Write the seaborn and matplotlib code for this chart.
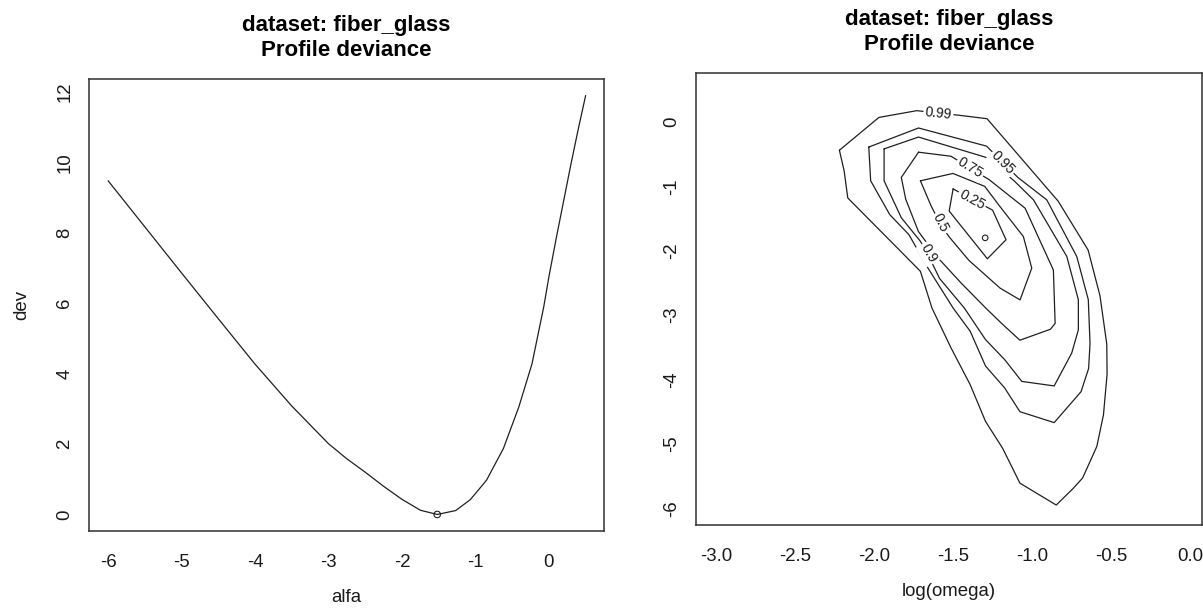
import numpy as np
import pandas as pd
import matplotlib
matplotlib.use("Agg")
import matplotlib.pyplot as plt
import seaborn as sns

# ---------------- data ----------------
alfa = [-6.0, -5.5, -5.0, -4.5, -4.0, -3.5, -3.0, -2.75, -2.5, -2.25,
        -2.0, -1.75, -1.52, -1.27, -1.07, -0.85, -0.62, -0.41, -0.23, -0.07,
        0.0, 0.1, 0.2, 0.3, 0.4, 0.5]
dev = [9.48, 8.17, 6.86, 5.56, 4.27, 3.08, 2.01, 1.58, 1.20, 0.80,
       0.43, 0.12, 0.0, 0.11, 0.42, 0.97, 1.87, 3.05, 4.28, 5.90,
       6.75, 7.85, 8.90, 9.95, 10.95, 11.90]
alfa_hat = [-1.52]
dev_hat = [0.0]

# contour paths (x = log(omega), y = alfa), one closed path per level
c099_x = [-2.22, -1.97, -1.73, -1.45, -1.285, -0.835, -0.645, -0.57, -0.527, -0.525,
          -0.548, -0.59, -0.68, -0.739, -0.847, -1.077, -1.186, -1.295, -1.392, -1.513,
          -1.634, -1.707, -1.852, -2.022, -2.167, -2.19, -2.22]
c099_y = [-0.44, 0.07, 0.175, 0.10, 0.05, -1.23, -1.99, -2.70, -3.45, -3.92,
          -4.55, -5.04, -5.53, -5.69, -5.95, -5.61, -5.07, -4.65, -4.08, -3.51,
          -2.89, -2.32, -1.96, -1.54, -1.18, -0.76, -0.44]
c095_x = [-2.034, -1.719, -1.288, -1.09, -0.907, -0.717, -0.644, -0.633, -0.642, -0.69,
          -0.86, -1.077, -1.174, -1.295, -1.392, -1.50, -1.659, -1.78, -1.901, -2.022, -2.034]
c095_y = [-0.39, -0.094, -0.376, -0.862, -1.21, -2.09, -2.76, -3.44, -3.83, -4.19,
          -4.67, -4.50, -4.13, -3.79, -3.25, -2.89, -2.27, -1.75, -1.44, -0.914, -0.39]
c090_x = [-1.937, -1.719, -1.295, -1.114, -0.991, -0.78, -0.707, -0.707, -0.749, -0.86,
          -1.065, -1.174, -1.295, -1.429, -1.586, -1.659, -1.707, -1.828, -1.937, -1.937]
c090_y = [-0.418, -0.235, -0.548, -0.914, -1.21, -2.09, -2.76, -3.23, -3.59, -4.10,
          -4.03, -3.69, -3.38, -2.89, -2.43, -2.06, -1.854, -1.488, -0.914, -0.418]
c075_x = [-1.719, -1.513, -1.271, -1.044, -0.865, -0.854, -0.884, -1.077, -1.186, -1.295,
          -1.45, -1.60, -1.72, -1.80, -1.828, -1.719]
c075_y = [-0.47, -0.533, -0.898, -1.34, -2.30, -3.13, -3.22, -3.39, -3.145, -2.886,
          -2.50, -2.10, -1.70, -1.20, -0.862, -0.47]
c050_x = [-1.707, -1.501, -1.30, -1.203, -1.055, -1.002, -1.076, -1.203, -1.40, -1.52,
          -1.574, -1.64, -1.707]
c050_y = [-0.914, -0.80, -1.00, -1.315, -1.78, -2.27, -2.764, -2.58, -2.15, -1.80,
          -1.62, -1.30, -0.914]
c025_x = [-1.50, -1.25, -1.165, -1.283, -1.525, -1.50]
c025_y = [-1.04, -1.37, -1.83, -2.125, -1.384, -1.04]

levels = ["0.99", "0.95", "0.9", "0.75", "0.5", "0.25"]
label_x = [-1.593, -1.188, -1.656, -1.392, -1.578, -1.380]
label_y = [0.135, -0.640, -2.040, -0.716, -1.574, -1.205]

omega_hat = [-1.297]
alfa_hat2 = [-1.80]

# tick labels
left_xticks = [-6, -5, -4, -3, -2, -1, 0]
left_yticks = [0, 2, 4, 6, 8, 10, 12]
right_xticks = [-3.0, -2.5, -2.0, -1.5, -1.0, -0.5, 0.0]
right_yticks = [-6, -5, -4, -3, -2, -1, 0]

# ---------------- style ----------------
sns.set_style("white")
plt.rcParams["font.family"] = ["Liberation Sans", "DejaVu Sans"]
plt.rcParams["axes.unicode_minus"] = False

W, H = 1203, 614
fig = plt.figure(figsize=(W / 100, H / 100), dpi=100)
fig.patch.set_facecolor("white")


def box(x0, x1, ytop, ybot):
    return [x0 / W, 1 - ybot / H, (x1 - x0) / W, (ybot - ytop) / H]


ax1 = fig.add_axes(box(89, 604, 79, 531))
ax2 = fig.add_axes(box(696, 1202, 73, 525))

TXT = "#1a1a1a"
LINE = "#202020"
TICK_FS = 13.4

for ax in (ax1, ax2):
    for s in ax.spines.values():
        s.set_visible(True)
        s.set_color("#303030")
        s.set_linewidth(1.1)
    ax.set_facecolor("white")
    ax.tick_params(axis="both", direction="out", length=7.9, width=0.9,
                   color="#303030", labelcolor=TXT, labelsize=TICK_FS)
    ax.tick_params(axis="x", pad=9)
    ax.tick_params(axis="y", pad=3.5)
    ax.grid(False)

# ---------------- left panel ----------------
sns.lineplot(x=alfa, y=dev, ax=ax1, color=LINE, linewidth=0.9, sort=False,
             estimator=None)
sns.scatterplot(x=alfa_hat, y=dev_hat, ax=ax1, marker="o", s=22,
                facecolor="none", edgecolor=LINE, linewidth=0.8, zorder=5)
ax1.set_xlim(-6.26, 0.75)
ax1.set_ylim(-0.47, 12.37)
ax1.set_xticks(left_xticks)
ax1.set_xticklabels([str(v) for v in left_xticks])
ax1.set_yticks(left_yticks)
ax1.set_yticklabels([str(v) for v in left_yticks], rotation=90, va="center")
ax1.set_xlabel("")
ax1.set_ylabel("")

# ---------------- right panel ----------------
paths = [(c099_x, c099_y), (c095_x, c095_y), (c090_x, c090_y),
         (c075_x, c075_y), (c050_x, c050_y), (c025_x, c025_y)]
for px, py in paths:
    sns.lineplot(x=px, y=py, ax=ax2, color=LINE, linewidth=0.9, sort=False,
                 estimator=None)
sns.scatterplot(x=omega_hat, y=alfa_hat2, ax=ax2, marker="o", s=16,
                facecolor="none", edgecolor=LINE, linewidth=0.8, zorder=5)
ax2.set_xlim(-3.128, 0.076)
ax2.set_ylim(-6.26, 0.76)
ax2.set_xticks(right_xticks)
ax2.set_xticklabels([f"{v:.1f}" for v in right_xticks])
ax2.set_yticks(right_yticks)
ax2.set_yticklabels([str(v) for v in right_yticks], rotation=90, va="center")
ax2.set_xlabel("")
ax2.set_ylabel("")

# contour labels: rotate along the nearest segment of their own path
fig.canvas.draw()
for lab, lx, ly, (px, py) in zip(levels, label_x, label_y, paths):
    pts = ax2.transData.transform(np.column_stack([px, py]))
    p = ax2.transData.transform((lx, ly))
    best, ang = 1e9, 0.0
    for i in range(len(pts) - 1):
        a, b = pts[i], pts[i + 1]
        d = b - a
        t = np.clip(np.dot(p - a, d) / max(np.dot(d, d), 1e-9), 0, 1)
        dist = np.linalg.norm(a + t * d - p)
        if dist < best:
            best = dist
            ang = np.degrees(np.arctan2(d[1], d[0]))
    if ang > 90:
        ang -= 180
    if ang < -90:
        ang += 180
    ax2.text(lx, ly, lab, rotation=ang, rotation_mode="anchor", ha="center",
             va="center", fontsize=10, color=TXT, zorder=4,
             bbox=dict(boxstyle="square,pad=0.12", fc="white", ec="none"))

# ---------------- titles and axis labels ----------------
title = "dataset: fiber_glass\nProfile deviance"
fig.text(346.5 / W, 1 - 38 / H, title, ha="center", va="center",
         fontsize=16, fontweight="bold", color="black", linespacing=1.2)
fig.text(949 / W, 1 - 32 / H, title, ha="center", va="center",
         fontsize=16, fontweight="bold", color="black", linespacing=1.2)
fig.text(346.5 / W, 1 - 598 / H, "alfa", ha="center", va="center",
         fontsize=TICK_FS, color=TXT)
fig.text(22 / W, 1 - 305 / H, "dev", ha="center", va="center",
         fontsize=TICK_FS, color=TXT, rotation=90)
fig.text(949 / W, 1 - 592 / H, "log(omega)", ha="center", va="center",
         fontsize=TICK_FS, color=TXT)

fig.savefig("out.png", dpi=100, facecolor="white")
